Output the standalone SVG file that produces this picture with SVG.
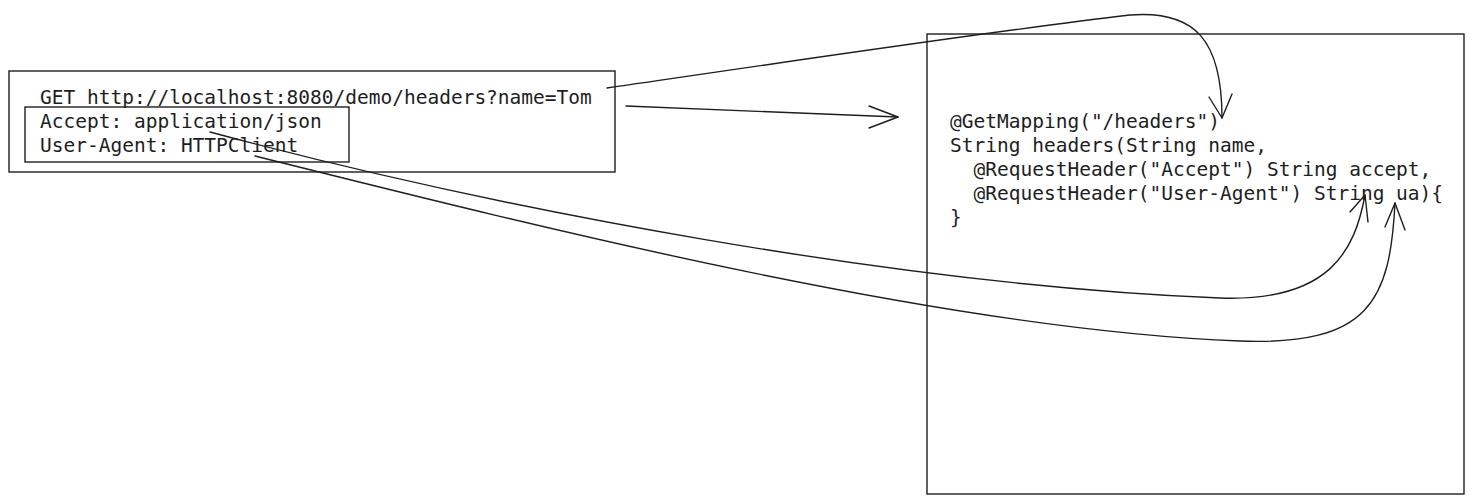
<svg xmlns="http://www.w3.org/2000/svg" width="1472" height="504" viewBox="0 0 1472 504">
<style>
.box{fill:none;stroke:#1e1e1e;stroke-width:1.4}
.t{font-family:"DejaVu Sans Mono","Liberation Mono",monospace;font-size:19.5px;fill:#1e1e1e;white-space:pre}
.c{fill:none;stroke:#1e1e1e;stroke-width:1.4;stroke-linecap:round;stroke-linejoin:round}
</style>
<rect width="1472" height="504" fill="#ffffff"/>
<g id="request">
<rect class="box" x="9" y="71" width="606" height="101"/>
<text class="t" x="40" y="104">GET http://localhost:8080/demo/headers?name=Tom</text>
</g>
<g id="headers">
<rect class="box" x="25" y="107" width="324" height="55"/>
<text class="t" x="40" y="128">Accept: application/json</text>
<text class="t" x="40" y="152">User-Agent: HTTPClient</text>
</g>
<g id="controller">
<rect class="box" x="927" y="34" width="537" height="460"/>
<text class="t" x="950" y="128">@GetMapping("/headers")</text>
<text class="t" x="950" y="152">String headers(String name,</text>
<text class="t" x="950" y="176" xml:space="preserve">  @RequestHeader("Accept") String accept,</text>
<text class="t" x="950" y="200" xml:space="preserve">  @RequestHeader("User-Agent") String ua){</text>
<text class="t" x="950" y="224">}</text>
</g>
<g id="connectors">
<path class="c" d="M607 88 C 800 60, 1000 30, 1130 15 C 1195 10, 1222 40, 1222 118"/>
<path class="c" d="M1209 97 L1222 118 L1232 94"/>
<path class="c" d="M626 106 L898 117"/>
<path class="c" d="M869 106 L898 117 L869 128"/>
<path class="c" d="M210 132 C 500 210, 900 285, 1220 298 C 1330 302, 1355 250, 1365 195"/>
<path class="c" d="M1350 212 L1365 195 L1368 222"/>
<path class="c" d="M255 156 C 550 230, 950 330, 1240 341 C 1370 346, 1390 300, 1395 203"/>
<path class="c" d="M1385 227 L1395 203 L1405 230"/>
</g>
</svg>
